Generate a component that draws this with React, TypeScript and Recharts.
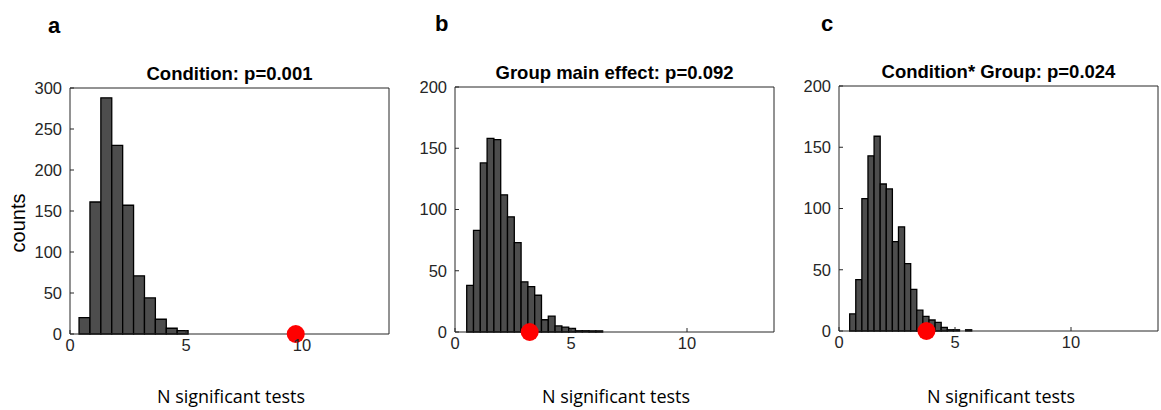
import { ComposedChart, XAxis, YAxis, ReferenceArea, Scatter } from "recharts";

// shared axis settings
const xTicks = [0, 5, 10];
const xMax = 13.75;

// panel a: Condition
const titleA = "Condition: p=0.001";
const countsA = [20, 161, 288, 230, 157, 71, 44, 18, 7, 4];
const binStartA = 0.39;
const binWidthA = 0.47;
const observedA = 9.73;
const yTicksA = [0, 50, 100, 150, 200, 250, 300];

// panel b: Group main effect
const titleB = "Group main effect: p=0.092";
const countsB = [38, 83, 138, 158, 157, 112, 94, 73, 41, 37, 30, 10, 13, 5, 4, 3, 1, 1, 1, 1];
const binStartB = 0.505;
const binWidthB = 0.293;
const observedB = 3.22;
const yTicksB = [0, 50, 100, 150, 200];

// panel c: Condition* Group
const titleC = "Condition* Group: p=0.024";
const countsC = [14, 42, 108, 143, 159, 120, 116, 73, 85, 55, 34, 17, 12, 9, 7, 3, 1, 1, 0, 1];
const binStartC = 0.46;
const binWidthC = 0.263;
const observedC = 3.77;
const yTicksC = [0, 50, 100, 150, 200];

const AXIS = "#262626";
const tickFont = { fontSize: 16.5, fill: AXIS, fontFamily: "'Liberation Sans', Arial, sans-serif" };

interface PanelProps {
  left: number;
  plotTop: number;
  plotBottom: number;
  title: string;
  counts: number[];
  binStart: number;
  binWidth: number;
  observed: number;
  yTicks: number[];
}

function Panel({ left, plotTop, plotBottom, title, counts, binStart, binWidth, observed, yTicks }: PanelProps) {
  const bins = counts.map((c, i) => ({
    x0: binStart + i * binWidth,
    x1: binStart + (i + 1) * binWidth,
    count: c,
  }));
  const yMax = yTicks[yTicks.length - 1];
  const height = plotBottom + 36;

  return (
    <div style={{ position: "absolute", left, top: 0 }}>
      <ComposedChart
        width={392}
        height={height}
        margin={{ top: plotTop - 1, right: 2, bottom: 6, left: 30 }}
      >
        <XAxis
          dataKey="x"
          type="number"
          domain={[0, xMax]}
          ticks={xTicks}
          height={30}
          stroke={AXIS}
          tickSize={-4}
          tickMargin={9}
          tick={tickFont}
        />
        <XAxis
          xAxisId="top"
          orientation="top"
          type="number"
          domain={[0, xMax]}
          ticks={xTicks}
          height={1}
          stroke={AXIS}
          tickSize={-4}
          tick={false}
          label={{
            value: title,
            position: "top",
            offset: 7,
            style: { fontSize: 18.5, fontWeight: "bold", fill: "#000", fontFamily: "'Liberation Sans', Arial, sans-serif" },
          }}
        />
        <YAxis
          dataKey="y"
          type="number"
          domain={[0, yMax]}
          ticks={yTicks}
          width={40}
          stroke={AXIS}
          tickSize={-4}
          tickMargin={12}
          tick={tickFont}
        />
        <YAxis
          yAxisId="right"
          orientation="right"
          type="number"
          domain={[0, yMax]}
          ticks={yTicks}
          width={1}
          stroke={AXIS}
          tickSize={-4}
          tick={false}
        />
        {bins.map((b, i) => (
          <ReferenceArea
            key={i}
            x1={b.x0}
            x2={b.x1}
            y1={0}
            y2={b.count}
            fill="#4d4d4d"
            fillOpacity={1}
            stroke="#000"
            strokeWidth={1.3}
          />
        ))}
        <Scatter
          data={[{ x: observed, y: 0 }]}
          isAnimationActive={false}
          shape={(p: any) => <circle cx={p.cx} cy={p.cy} r={9} fill="#ff0000" />}
        />
      </ComposedChart>
    </div>
  );
}

const letterStyle: React.CSSProperties = {
  position: "absolute",
  fontFamily: "'Liberation Sans', Arial, sans-serif",
  fontWeight: "bold",
  fontSize: 22,
  lineHeight: "22px",
  color: "#000",
};

const xLabelStyle: React.CSSProperties = {
  position: "absolute",
  width: 200,
  textAlign: "center",
  fontFamily: "'Open Sans', sans-serif",
  fontSize: 18,
  lineHeight: "20px",
  color: "#000",
  top: 386,
};

export default function App() {
  return (
    <div style={{ position: "absolute", left: 0, top: 0, width: 1161, height: 410, background: "#fff", overflow: "hidden" }}>
      <Panel left={0} plotTop={88} plotBottom={334} title={titleA} counts={countsA} binStart={binStartA} binWidth={binWidthA} observed={observedA} yTicks={yTicksA} />
      <Panel left={385} plotTop={87} plotBottom={332} title={titleB} counts={countsB} binStart={binStartB} binWidth={binWidthB} observed={observedB} yTicks={yTicksB} />
      <Panel left={769} plotTop={86} plotBottom={331} title={titleC} counts={countsC} binStart={binStartC} binWidth={binWidthC} observed={observedC} yTicks={yTicksC} />

      <div style={{ ...letterStyle, left: 48, top: 15 }}>a</div>
      <div style={{ ...letterStyle, left: 435, top: 13 }}>b</div>
      <div style={{ ...letterStyle, left: 821, top: 13 }}>c</div>

      <div
        style={{
          position: "absolute",
          left: 18,
          top: 223,
          transform: "translate(-50%, -50%) rotate(-90deg)",
          fontFamily: "'Liberation Sans', Arial, sans-serif",
          fontSize: 20,
          color: "#000",
          whiteSpace: "nowrap",
        }}
      >
        counts
      </div>

      <div style={{ ...xLabelStyle, left: 131 }}>N significant tests</div>
      <div style={{ ...xLabelStyle, left: 516 }}>N significant tests</div>
      <div style={{ ...xLabelStyle, left: 901 }}>N significant tests</div>
    </div>
  );
}
